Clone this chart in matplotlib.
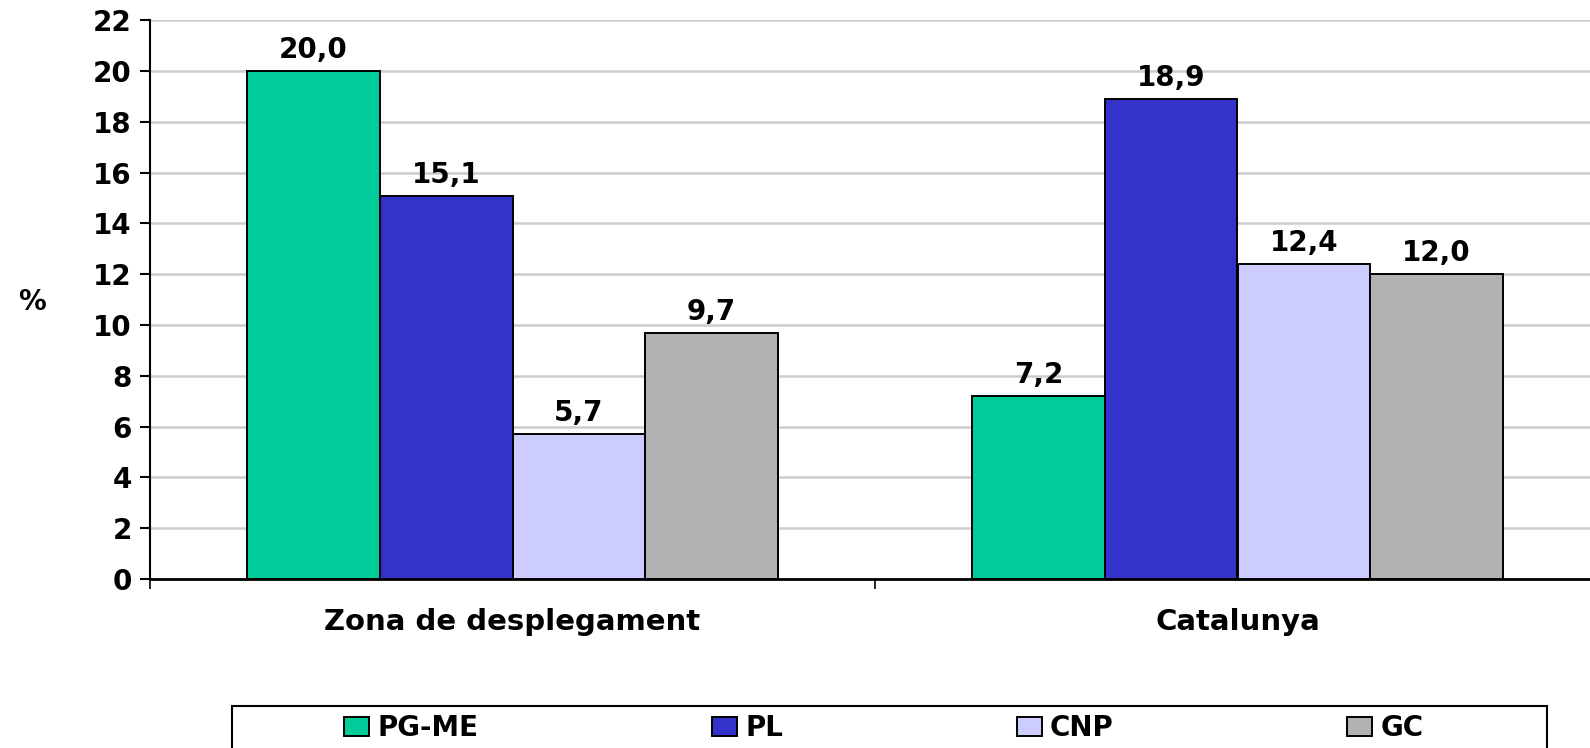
import numpy as np
import matplotlib.pyplot as plt
from matplotlib.patches import Rectangle

categories = ['Zona de desplegament', 'Catalunya']
series = ['PG-ME', 'PL', 'CNP', 'GC']
pg_me = [20.0, 7.2]
pl = [15.1, 18.9]
cnp = [5.7, 12.4]
gc = [9.7, 12.0]
colors = ['#00CC99', '#3333CC', '#CCCCFF', '#B2B2B2']

plt.rcParams['font.family'] = 'DejaVu Sans'
plt.rcParams['font.weight'] = 'bold'

fig = plt.figure(figsize=(15.9, 7.48), dpi=100)
ax = fig.add_axes([150 / 1590, 1 - 579 / 748, 1450 / 1590, (579 - 20.3) / 748])

x = np.arange(len(categories))
w = 0.183
values = [pg_me, pl, cnp, gc]
for i, (name, vals) in enumerate(zip(series, values)):
    pos = x + (i - 1.5) * w
    ax.bar(pos, vals, w, color=colors[i], edgecolor='black',
           linewidth=1.4, label=name, zorder=3)
    for xp, v in zip(pos, vals):
        ax.annotate(f'{v:.1f}'.replace('.', ','), (xp, v), xytext=(0, 5),
                    textcoords='offset points', ha='center', va='bottom',
                    fontsize=20, fontweight='bold')

ax.set_xlim(-0.5, 1.5)
ax.set_ylim(0, 22)
ax.set_yticks(np.arange(0, 23, 2))
ax.yaxis.grid(True, color='#CCCCCC', linewidth=1.8, zorder=0)
ax.set_axisbelow(True)

ax.set_xticks([-0.5, 0.5, 1.5])
ax.set_xticklabels([])
ax.set_xticks(x, minor=True)
ax.set_xticklabels(categories, minor=True, fontsize=21, fontweight='bold')
ax.tick_params(axis='x', which='minor', length=0, pad=21)
ax.tick_params(axis='x', which='major', length=7, width=1.2, direction='out')
ax.tick_params(axis='y', length=7, width=1.5, pad=6, labelsize=20)
for lab in ax.get_yticklabels():
    lab.set_fontweight('bold')

ax.spines['top'].set_visible(False)
ax.spines['right'].set_visible(False)
ax.spines['left'].set_linewidth(1.5)
ax.spines['bottom'].set_linewidth(2)

fig.text(32 / 1590, 1 - 302 / 748, '%', fontsize=20, fontweight='bold',
         ha='center', va='center')

# legend box (bottom runs off the figure)
fig.patches.append(Rectangle((232 / 1590, -0.05), (1547 - 232) / 1590,
                             0.05 + (748 - 706) / 748, transform=fig.transFigure,
                             facecolor='white', edgecolor='black', linewidth=1.5))
fig.legend(loc='center', bbox_to_anchor=(884 / 1590, 1 - 728 / 748), ncol=4,
           frameon=False, prop={'weight': 'bold', 'size': 20},
           handlelength=0.9, handleheight=0.7, handletextpad=0.3,
           columnspacing=8.4)

fig.savefig('out.png', dpi=100)
